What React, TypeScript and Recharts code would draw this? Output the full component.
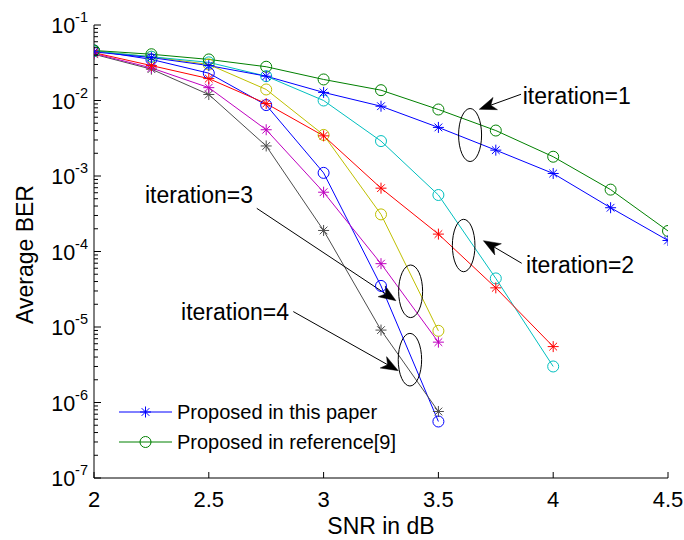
import React from "react";
import {
  LineChart,
  Line,
  XAxis,
  YAxis,
  ReferenceDot,
  ReferenceLine,
  Legend,
} from "recharts";

const FONT = '"Liberation Sans", Arial, sans-serif';

// SNR grid (dB)
const SNR = [2, 2.25, 2.5, 2.75, 3, 3.25, 3.5, 3.75, 4, 4.25, 4.5];

// iteration = 1
const IT1_PAPER = [4.4e-2, 3.7e-2, 2.9e-2, 2.1e-2, 1.28e-2, 8.4e-3, 4.4e-3, 2.2e-3, 1.08e-3, 3.8e-4, 1.4e-4];
const IT1_REF = [4.6e-2, 4.1e-2, 3.5e-2, 2.8e-2, 1.9e-2, 1.37e-2, 7.6e-3, 4.0e-3, 1.8e-3, 6.6e-4, 1.87e-4];
// iteration = 2
const IT2_PAPER = [4.3e-2, 2.9e-2, 1.95e-2, 9.1e-3, 3.4e-3, 6.9e-4, 1.7e-4, 3.3e-5, 5.5e-6];
const IT2_REF = [4.5e-2, 3.8e-2, 3.2e-2, 2.1e-2, 1.0e-2, 2.9e-3, 5.6e-4, 4.4e-5, 3.0e-6];
// iteration = 3
const IT3_PAPER = [4.2e-2, 2.7e-2, 1.48e-2, 4.1e-3, 6.1e-4, 6.9e-5, 6.3e-6];
const IT3_REF = [4.5e-2, 3.8e-2, 3.0e-2, 1.4e-2, 3.5e-3, 3.1e-4, 8.9e-6];
// iteration = 4
const IT4_PAPER = [4.1e-2, 2.6e-2, 1.2e-2, 2.5e-3, 1.9e-4, 9.1e-6, 7.6e-7];
const IT4_REF = [4.6e-2, 3.5e-2, 2.3e-2, 8.7e-3, 1.1e-3, 3.5e-5, 5.6e-7];

const X_TICKS = [2, 2.5, 3, 3.5, 4, 4.5];
const DECADES = [-7, -6, -5, -4, -3, -2, -1];

const LEGEND_LABELS = ["Proposed in this paper", "Proposed in reference[9]"];
const ITER_LABELS = ["iteration=1", "iteration=2", "iteration=3", "iteration=4"];

// log axis ticks: decades plus 2..9 minors
const Y_TICKS: number[] = [];
DECADES.forEach((d) => {
  Y_TICKS.push(Math.pow(10, d));
  if (d < -1) {
    for (let k = 2; k <= 9; k++) Y_TICKS.push(k * Math.pow(10, d));
  }
});

const SERIES = [
  { key: "it4Ref", values: IT4_REF, color: "#0000FF", marker: "o" },
  { key: "it4Paper", values: IT4_PAPER, color: "#4D4D4D", marker: "*" },
  { key: "it3Ref", values: IT3_REF, color: "#BFBF00", marker: "o" },
  { key: "it3Paper", values: IT3_PAPER, color: "#BF00BF", marker: "*" },
  { key: "it2Ref", values: IT2_REF, color: "#00BFBF", marker: "o" },
  { key: "it2Paper", values: IT2_PAPER, color: "#FF0000", marker: "*" },
  { key: "it1Ref", values: IT1_REF, color: "#008000", marker: "o" },
  { key: "it1Paper", values: IT1_PAPER, color: "#0000FF", marker: "*" },
];

const data = SNR.map((snr, i) => {
  const row: any = { snr };
  SERIES.forEach((s) => {
    row[s.key] = s.values[i];
  });
  return row;
});

// annotation placement (data coordinates)
const ELLIPSES = [
  { x: 3.638, y: 3.49e-3, rx: 11.5, ry: 26.5 },
  { x: 3.61, y: 1.2e-4, rx: 11.3, ry: 26.2 },
  { x: 3.379, y: 2.97e-5, rx: 12, ry: 26.3 },
  { x: 3.376, y: 3.69e-6, rx: 11.7, ry: 26.3 },
];
const ARROWS = [
  { from: { x: 3.86, y: 1.21e-2 }, to: { x: 3.678, y: 7.64e-3 } },
  { from: { x: 3.863, y: 6.98e-5 }, to: { x: 3.696, y: 1.39e-4 } },
  { from: { x: 2.709, y: 3.73e-4 }, to: { x: 3.315, y: 2.23e-5 } },
  { from: { x: 2.868, y: 1.6e-5 }, to: { x: 3.325, y: 2.64e-6 } },
];
const TEXT_POS = [
  { x: 3.867, y: 8.91e-3 },
  { x: 3.882, y: 5.24e-5 },
  { x: 2.222, y: 4.35e-4 },
  { x: 2.379, y: 1.24e-5 },
];

function Asterisk({ cx, cy, color }: any) {
  const s = 5.5;
  const d = s * 0.7;
  return (
    <g stroke={color} strokeWidth={1}>
      <line x1={cx - s} y1={cy} x2={cx + s} y2={cy} />
      <line x1={cx} y1={cy - s} x2={cx} y2={cy + s} />
      <line x1={cx - d} y1={cy - d} x2={cx + d} y2={cy + d} />
      <line x1={cx - d} y1={cy + d} x2={cx + d} y2={cy - d} />
    </g>
  );
}

const makeDot = (color: string, marker: string) => (props: any) => {
  const { cx, cy, index, dataKey } = props;
  const k = `${dataKey}-${index}`;
  if (cx == null || cy == null || isNaN(cy)) return <g key={k} />;
  if (marker === "*") {
    return (
      <g key={k}>
        <Asterisk cx={cx} cy={cy} color={color} />
      </g>
    );
  }
  return <circle key={k} cx={cx} cy={cy} r={5.5} fill="none" stroke={color} strokeWidth={1} />;
};

const YTick = ({ x, y, payload }: any) => {
  const lg = Math.log10(payload.value);
  const e = Math.round(lg);
  const major = Math.abs(lg - e) < 1e-6;
  return (
    <g>
      <line x1={x} x2={x + (major ? 7 : 4)} y1={y} y2={y} stroke="#000" />
      {major && (
        <text x={x - 6} y={y + 8} textAnchor="end" fontSize={21.5} fontFamily={FONT} fill="#000">
          10
          <tspan fontSize={14.5} dy={-11}>
            {e}
          </tspan>
        </text>
      )}
    </g>
  );
};

const XTick = ({ x, y, payload }: any) => (
  <g>
    <line x1={x} x2={x} y1={y} y2={y - 6} stroke="#000" />
    <text x={x} y={y + 29} textAnchor="middle" fontSize={22} fontFamily={FONT} fill="#000">
      {payload.value}
    </text>
  </g>
);

const Arrow = ({ x1, y1, x2, y2 }: any) => {
  const dx = x2 - x1;
  const dy = y2 - y1;
  const len = Math.sqrt(dx * dx + dy * dy);
  const ux = dx / len;
  const uy = dy / len;
  const nx = -uy;
  const ny = ux;
  const L = 17;
  const W = 6.5;
  const bx = x2 - ux * L;
  const by = y2 - uy * L;
  const pts = [
    [x2, y2],
    [bx + nx * W, by + ny * W],
    [x2 - ux * L * 0.72, y2 - uy * L * 0.72],
    [bx - nx * W, by - ny * W],
  ]
    .map((p) => p.join(","))
    .join(" ");
  return (
    <g>
      <line x1={x1} y1={y1} x2={x2 - ux * L * 0.7} y2={y2 - uy * L * 0.7} stroke="#000" strokeWidth={1} />
      <polygon points={pts} fill="#000" stroke="#000" strokeWidth={0.5} />
    </g>
  );
};

const LegendContent = () => {
  const rows = [
    { label: LEGEND_LABELS[0], color: "#0000FF", marker: "*" },
    { label: LEGEND_LABELS[1], color: "#008000", marker: "o" },
  ];
  return (
    <div style={{ fontFamily: FONT, fontSize: 20, color: "#000" }}>
      {rows.map((r) => (
        <div key={r.label} style={{ display: "flex", alignItems: "center", height: 30 }}>
          <svg width={60} height={30}>
            <line x1={2} x2={55} y1={15} y2={15} stroke={r.color} strokeWidth={1} />
            {r.marker === "*" ? (
              <Asterisk cx={28.5} cy={15} color={r.color} />
            ) : (
              <circle cx={28.5} cy={15} r={5.5} fill="none" stroke={r.color} />
            )}
          </svg>
          <span style={{ whiteSpace: "nowrap" }}>{r.label}</span>
        </div>
      ))}
    </div>
  );
};

export default function App() {
  return (
    <div style={{ position: "absolute", left: 0, top: 0, background: "#fff" }}>
      <LineChart
        width={684}
        height={540}
        data={data}
        margin={{ top: 25, right: 16, left: 0, bottom: 0 }}
      >
        <XAxis
          dataKey="snr"
          type="number"
          domain={[2, 4.5]}
          ticks={X_TICKS}
          interval={0}
          allowDataOverflow
          height={62}
          tickSize={0}
          tickMargin={0}
          tickLine={false}
          axisLine={{ stroke: "#000" }}
          tick={(p: any) => <XTick {...p} />}
          label={(p: any) => {
            const vb = p.viewBox;
            return (
              <text
                x={vb.x + vb.width / 2}
                y={vb.y + 56}
                textAnchor="middle"
                fontSize={23}
                fontFamily={FONT}
                fill="#000"
              >
                SNR in dB
              </text>
            );
          }}
        />
        <YAxis
          type="number"
          scale="log"
          domain={[1e-7, 1e-1]}
          ticks={Y_TICKS}
          interval={0}
          allowDataOverflow
          width={94}
          tickSize={0}
          tickMargin={0}
          tickLine={false}
          axisLine={{ stroke: "#000" }}
          tick={(p: any) => <YTick {...p} />}
          label={(p: any) => {
            const vb = p.viewBox;
            const cx = vb.x + 33;
            const cy = vb.y + vb.height / 2 + 3;
            return (
              <text
                x={cx}
                y={cy}
                transform={`rotate(-90, ${cx}, ${cy})`}
                textAnchor="middle"
                fontSize={23}
                fontFamily={FONT}
                fill="#000"
              >
                Average BER
              </text>
            );
          }}
        />
        {SERIES.map((s) => (
          <Line
            key={s.key}
            dataKey={s.key}
            type="linear"
            stroke={s.color}
            strokeWidth={1}
            dot={makeDot(s.color, s.marker)}
            activeDot={false}
            isAnimationActive={false}
            legendType="none"
          />
        ))}
        {ELLIPSES.map((e, i) => (
          <ReferenceDot
            key={`el-${i}`}
            x={e.x}
            y={e.y}
            r={1}
            shape={(p: any) => (
              <ellipse cx={p.cx} cy={p.cy} rx={e.rx} ry={e.ry} fill="none" stroke="#000" strokeWidth={1} />
            )}
          />
        ))}
        {ARROWS.map((a, i) => (
          <ReferenceLine
            key={`ar-${i}`}
            segment={[a.from, a.to]}
            shape={(p: any) => <Arrow {...p} />}
          />
        ))}
        {TEXT_POS.map((t, i) => (
          <ReferenceDot
            key={`tx-${i}`}
            x={t.x}
            y={t.y}
            r={1}
            shape={(p: any) => (
              <text x={p.cx} y={p.cy} fontSize={23} fontFamily={FONT} fill="#000">
                {ITER_LABELS[i]}
              </text>
            )}
          />
        ))}
        <Legend
          layout="horizontal"
          verticalAlign="middle"
          align="center"
          content={() => <LegendContent />}
          wrapperStyle={{ left: 117, top: 397, width: 320, height: 60 }}
        />
      </LineChart>
    </div>
  );
}
